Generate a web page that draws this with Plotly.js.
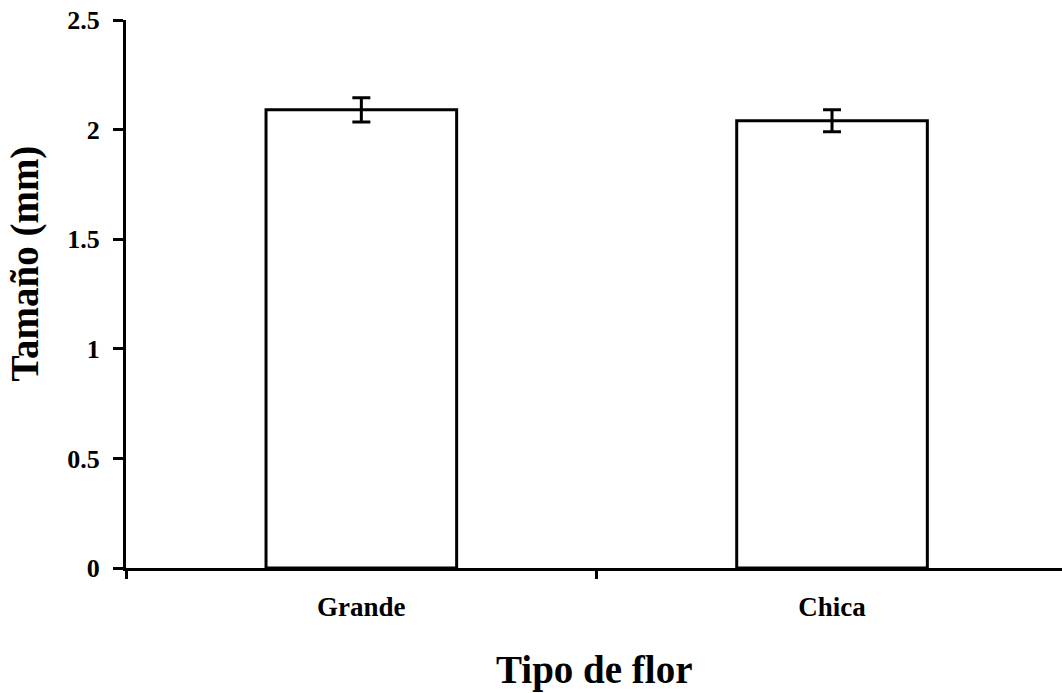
<!DOCTYPE html>
<html>
<head>
<meta charset="utf-8">
<script src="https://cdn.plot.ly/plotly-3.0.1.min.js"></script>
<style>html,body{margin:0;padding:0;background:#fff;}#chart{width:1062px;height:693px;}</style>
</head>
<body>
<div id="chart"></div>
<script>
const categories = ["Grande", "Chica"];
const sizes = [2.09, 2.04];
const errors = [0.055, 0.05];
const yTickVals = [0, 0.5, 1, 1.5, 2, 2.5];
const yTickText = ["0", "0.5", "1", "1.5", "2", "2.5"];
const xTitle = "Tipo de flor";
const yTitle = "Tamaño (mm)";

const serif = "Liberation Serif, Times New Roman, serif";

const trace = {
  type: "bar",
  x: categories,
  y: sizes,
  marker: {color: "#ffffff", line: {color: "#000000", width: 3}},
  error_y: {type: "data", array: errors, visible: true, color: "#000000", thickness: 3, width: 9},
  hoverinfo: "none"
};

const layout = {
  width: 1062,
  height: 693,
  margin: {l: 126, r: 0, t: 20, b: 125},
  paper_bgcolor: "#ffffff",
  plot_bgcolor: "#ffffff",
  showlegend: false,
  bargap: 0.595,
  xaxis: {
    type: "category",
    range: [-0.5, 1.4886],
    tickson: "boundaries",
    ticks: "outside",
    ticklen: 8,
    tickwidth: 3,
    tickcolor: "#000",
    showline: true,
    linecolor: "#000",
    linewidth: 3,
    showgrid: false,
    zeroline: false,
    tickfont: {family: serif, size: 27, color: "#000", weight: "bold"},
    ticklabelstandoff: 13
  },
  yaxis: {
    range: [0, 2.5],
    tickvals: yTickVals,
    ticktext: yTickText,
    ticks: "outside",
    ticklen: 10,
    tickwidth: 3,
    tickcolor: "#000",
    showline: true,
    linecolor: "#000",
    linewidth: 3,
    showgrid: false,
    zeroline: false,
    tickfont: {family: serif, size: 26, color: "#000", weight: "bold"},
    ticklabelstandoff: 8
  },
  annotations: [
    {text: "<b>" + xTitle + "</b>", xref: "paper", yref: "paper", x: 0.5, y: -0.186,
     xanchor: "center", yanchor: "middle", showarrow: false,
     font: {family: serif, size: 39, color: "#000"}},
    {text: "<b>" + yTitle + "</b>", xref: "paper", yref: "paper", x: -0.1074, y: 0.5566,
     xanchor: "center", yanchor: "middle", textangle: -90, showarrow: false,
     font: {family: serif, size: 39, color: "#000"}}
  ]
};

Plotly.newPlot("chart", [trace], layout, {displayModeBar: false, staticPlot: true});
</script>
</body>
</html>
